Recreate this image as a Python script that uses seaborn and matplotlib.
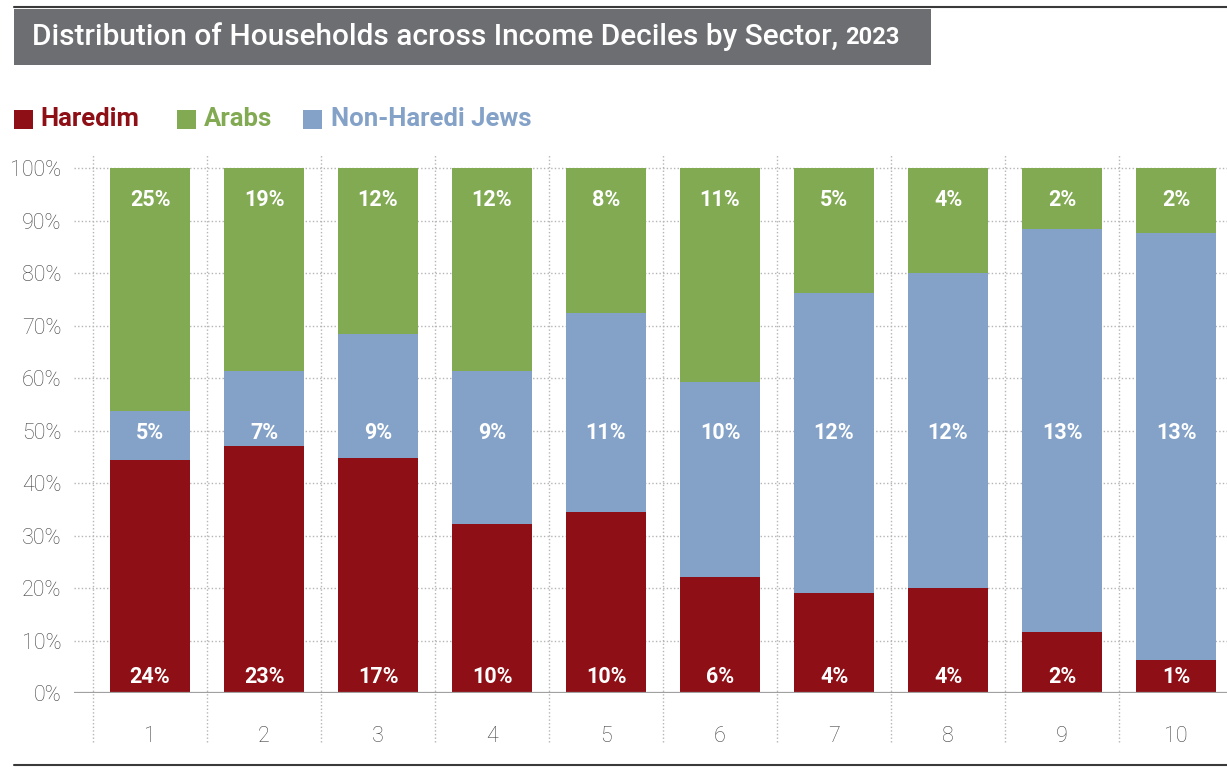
import matplotlib
matplotlib.use("Agg")
import matplotlib.pyplot as plt
from matplotlib.patches import Rectangle
from matplotlib.lines import Line2D
import numpy as np
import pandas as pd
import seaborn as sns

# Income deciles (x axis)
deciles = ["1", "2", "3", "4", "5", "6", "7", "8", "9", "10"]

# Composition of each decile by sector (% of households in the decile)
haredim_share = [44.4, 47.0, 44.8, 32.2, 34.5, 22.1, 19.0, 20.0, 11.7, 6.2]
non_haredi_share = [9.3, 14.3, 23.6, 29.1, 37.9, 37.2, 57.2, 60.0, 76.7, 81.4]
arab_share = [46.3, 38.7, 31.6, 38.7, 27.6, 40.7, 23.8, 20.0, 11.6, 12.4]

# Share of each sector's households falling in the decile (printed on bars)
haredim_dist = [24, 23, 17, 10, 10, 6, 4, 4, 2, 1]
arab_dist = [25, 19, 12, 12, 8, 11, 5, 4, 2, 2]
non_haredi_dist = [5, 7, 9, 9, 11, 10, 12, 12, 13, 13]

sectors = ["Haredim", "Arabs", "Non-Haredi Jews"]
palette = {"Haredim": "#8e0f16", "Arabs": "#82aa53", "Non-Haredi Jews": "#84a2c8"}

W, H = 1227, 767
sns.set_theme(style="white")
plt.rcParams["font.family"] = ["Roboto", "DejaVu Sans"]

fig = plt.figure(figsize=(W / 100, H / 100), dpi=100)
ax = fig.add_axes([74 / W, (H - 693) / H, (W - 74) / W, (693 - 155) / H])

df = pd.DataFrame({
    "decile": deciles,
    "Haredim": haredim_share,
    "Non-Haredi Jews": non_haredi_share,
    "Arabs": arab_share,
})
df["haredim_top"] = df["Haredim"]
df["non_haredi_top"] = df["haredim_top"] + df["Non-Haredi Jews"]
df["arab_top"] = df["non_haredi_top"] + df["Arabs"]

# Stacked bars: draw cumulative tops from the highest layer down
for col, sector in [("arab_top", "Arabs"),
                    ("non_haredi_top", "Non-Haredi Jews"),
                    ("haredim_top", "Haredim")]:
    sns.barplot(data=df, x="decile", y=col, color=palette[sector],
                saturation=1, width=0.70, linewidth=0, edgecolor="none",
                ax=ax, zorder=2)

ax.set_xlim(-0.667, 9.447)
ax.set_ylim(0, 102.5)

# Dotted grid and category separators
dot = (0, (1.0, 1.6))
for y in range(10, 101, 10):
    ax.axhline(y, color="#b5b5b5", lw=1.0, ls=dot, zorder=0)
ax.vlines(np.arange(-0.5, 9.6, 1.0), -9.3, 102.5, colors="#b5b5b5",
          lw=1.0, linestyles=dot, clip_on=False, zorder=0)
ax.axhline(0, color="#a0a0a0", lw=1.6, zorder=3)

for s in ax.spines.values():
    s.set_visible(False)
ax.set_xlabel("")
ax.set_ylabel("")
ax.set_yticks(range(0, 101, 10))
ax.set_yticklabels([f"{v}%" for v in range(0, 101, 10)])
ax.tick_params(axis="y", length=0, pad=9, labelsize=15.5, labelcolor="#444444")
ax.tick_params(axis="x", length=0, pad=24, labelsize=15.5, labelcolor="#444444")
for lbl in ax.get_yticklabels() + ax.get_xticklabels():
    lbl.set_fontweight("light")

# Value labels at fixed heights within each bar
label_rows = [(arab_dist, 94.0), (non_haredi_dist, 49.5), (haredim_dist, 3.0)]
for values, ypos in label_rows:
    for i, v in enumerate(values):
        ax.text(i, ypos, f"{v}%", ha="center", va="center", color="white",
                fontsize=15.5, fontweight="bold", zorder=4)

# Header band with title
fig.add_artist(Line2D([14 / W, 1], [1 - 7 / H, 1 - 7 / H], color="#3a3a3a",
                      lw=1.5, transform=fig.transFigure))
fig.add_artist(Rectangle((14 / W, 1 - 65 / H), (931 - 14) / W, (65 - 9) / H,
                         transform=fig.transFigure, facecolor="#6d6e71",
                         edgecolor="none"))
title = fig.text(32 / W, 1 - 37 / H,
                 "Distribution of Households across Income Deciles by Sector, ",
                 color="white", fontsize=21.5, fontweight="medium",
                 ha="left", va="center")
fig.canvas.draw()
bb = title.get_window_extent()
fig.text(bb.x1 / W, 1 - 38 / H, "2023", color="white", fontsize=17,
         fontweight="bold", ha="left", va="center")

# Legend
legend_items = [("Haredim", 14, 40), ("Arabs", 177, 204), ("Non-Haredi Jews", 303, 331)]
for name, sq_x, tx in legend_items:
    fig.add_artist(Rectangle((sq_x / W, 1 - 129 / H), 19 / W, 19 / H,
                             transform=fig.transFigure,
                             facecolor=palette[name], edgecolor="none"))
    fig.text(tx / W, 1 - 119 / H, name, color=palette[name], fontsize=18.5,
             fontweight="bold", ha="left", va="center")

# Bottom rule
fig.add_artist(Line2D([14 / W, 1], [1 - 765 / H, 1 - 765 / H], color="#3a3a3a",
                      lw=1.5, transform=fig.transFigure))

fig.savefig("out.png", dpi=100)
